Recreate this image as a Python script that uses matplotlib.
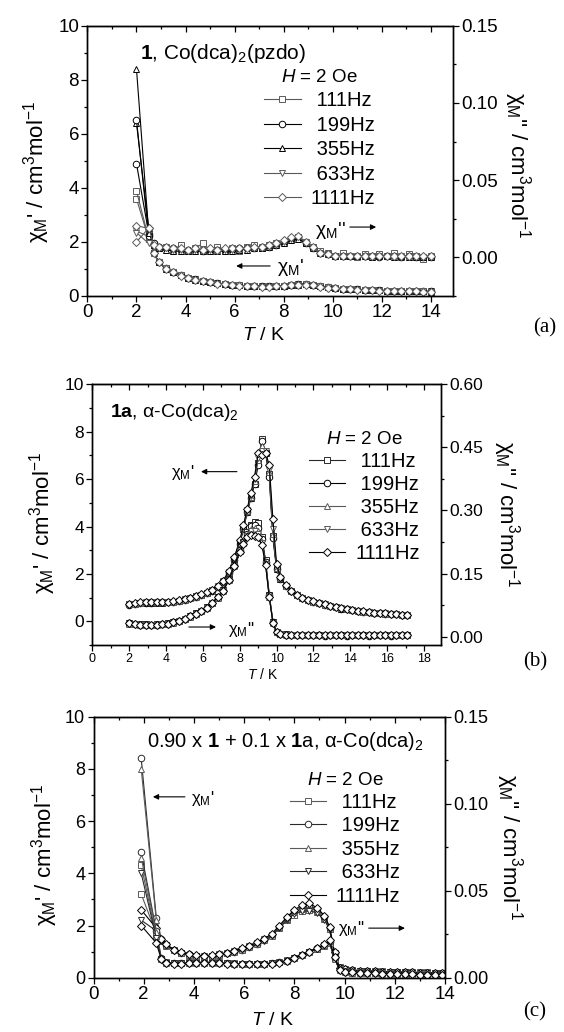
import matplotlib
matplotlib.use('Agg')
import matplotlib.pyplot as plt
from matplotlib.ticker import MultipleLocator, FormatStrFormatter

plt.rcParams['font.family'] = ['Liberation Sans', 'DejaVu Sans']
plt.rcParams['mathtext.fontset'] = 'custom'
plt.rcParams['mathtext.rm'] = 'Liberation Sans'
plt.rcParams['mathtext.it'] = 'Liberation Sans:italic'
plt.rcParams['mathtext.bf'] = 'Liberation Sans:bold'

FREQ_LABELS = [' 111Hz', ' 199Hz', ' 355Hz', ' 633Hz', '1111Hz']
MARKERS = ['s', 'o', '^', 'v', 'D']
MSIZE = [4.3, 4.7, 5.0, 5.0, 4.3]

# ---------------- panel (a): 1, Co(dca)2(pzdo) ----------------
T_a = [2.0, 2.5, 2.7, 2.9, 3.2, 3.5, 3.8, 4.1, 4.4, 4.7, 5.0, 5.3, 5.6, 5.9, 6.2, 6.5, 6.8, 7.1, 7.4, 7.7,
       8.0, 8.3, 8.6, 8.9, 9.2, 9.5, 9.8, 10.1, 10.4, 10.7, 11.0, 11.3, 11.6, 11.9, 12.2, 12.5, 12.8, 13.1,
       13.4, 13.7, 14.0]

chi1_a_111 = [3.6, 2.1, 1.6, 1.27, 1.03, 0.88, 0.77, 0.68, 0.61, 0.56, 0.51, 0.47, 0.44, 0.41, 0.39, 0.38, 0.37,
              0.36, 0.36, 0.37, 0.38, 0.40, 0.43, 0.44, 0.41, 0.37, 0.32, 0.29, 0.27, 0.25, 0.24, 0.23, 0.22,
              0.21, 0.20, 0.19, 0.19, 0.18, 0.18, 0.17, 0.17]
chi1_a_199 = [4.9, 2.3, 1.62, 1.25, 1.02, 0.88, 0.76, 0.68, 0.61, 0.55, 0.51, 0.47, 0.44, 0.41, 0.39, 0.38, 0.37,
              0.36, 0.36, 0.37, 0.38, 0.40, 0.43, 0.44, 0.41, 0.36, 0.32, 0.29, 0.27, 0.25, 0.24, 0.23, 0.22,
              0.21, 0.20, 0.19, 0.19, 0.18, 0.18, 0.17, 0.17]
chi1_a_355 = [6.4, 2.5, 1.65, 1.24, 1.01, 0.87, 0.76, 0.67, 0.60, 0.55, 0.50, 0.47, 0.43, 0.41, 0.39, 0.37, 0.36,
              0.36, 0.36, 0.36, 0.37, 0.39, 0.42, 0.43, 0.41, 0.36, 0.32, 0.29, 0.27, 0.25, 0.24, 0.23, 0.22,
              0.21, 0.20, 0.19, 0.19, 0.18, 0.17, 0.17, 0.16]
chi1_a_633 = [2.4, 2.2, 1.58, 1.25, 1.02, 0.87, 0.76, 0.67, 0.60, 0.55, 0.50, 0.46, 0.43, 0.41, 0.39, 0.37, 0.36,
              0.35, 0.35, 0.36, 0.37, 0.39, 0.42, 0.43, 0.40, 0.36, 0.32, 0.29, 0.26, 0.25, 0.23, 0.22, 0.21,
              0.20, 0.20, 0.19, 0.18, 0.18, 0.17, 0.17, 0.16]
chi1_a_1111 = [2.6, 2.5, 1.6, 1.24, 1.01, 0.87, 0.75, 0.67, 0.60, 0.54, 0.50, 0.46, 0.43, 0.40, 0.38, 0.37, 0.36,
               0.35, 0.35, 0.36, 0.37, 0.39, 0.41, 0.42, 0.40, 0.35, 0.31, 0.28, 0.26, 0.24, 0.23, 0.22, 0.21,
               0.20, 0.19, 0.19, 0.18, 0.17, 0.17, 0.16, 0.16]

chi2_a_111 = [0.043, 0.012, 0.008, 0.006, 0.007, 0.005, 0.008, 0.004, 0.006, 0.009, 0.005, 0.007, 0.005, 0.006,
              0.004, 0.007, 0.008, 0.006, 0.008, 0.009, 0.010, 0.012, 0.013, 0.009, 0.007, 0.004, 0.003, 0.001,
              0.003, 0.001, 0.000, 0.002, 0.001, 0.002, 0.001, 0.003, 0.000, 0.002, 0.001, -0.001, 0.001]
chi2_a_199 = [0.089, 0.014, 0.009, 0.007, 0.006, 0.006, 0.005, 0.005, 0.005, 0.004, 0.005, 0.005, 0.005, 0.005,
              0.006, 0.006, 0.006, 0.007, 0.007, 0.008, 0.010, 0.012, 0.013, 0.009, 0.006, 0.003, 0.002, 0.001,
              0.001, 0.001, 0.001, 0.001, 0.001, 0.000, 0.001, 0.001, 0.000, 0.001, 0.000, 0.000, 0.000]
chi2_a_355 = [0.122, 0.016, 0.008, 0.006, 0.005, 0.004, 0.004, 0.004, 0.004, 0.004, 0.004, 0.004, 0.004, 0.004,
              0.005, 0.005, 0.006, 0.006, 0.007, 0.008, 0.009, 0.011, 0.012, 0.009, 0.006, 0.003, 0.002, 0.001,
              0.001, 0.001, 0.001, 0.001, 0.000, 0.001, 0.001, 0.000, 0.001, 0.000, 0.000, 0.000, 0.000]
chi2_a_633 = [0.016, 0.009, 0.007, 0.006, 0.006, 0.005, 0.005, 0.004, 0.005, 0.005, 0.005, 0.004, 0.005, 0.005,
              0.005, 0.006, 0.006, 0.007, 0.007, 0.008, 0.010, 0.012, 0.013, 0.010, 0.006, 0.003, 0.002, 0.001,
              0.001, 0.001, 0.001, 0.000, 0.001, 0.001, 0.000, 0.001, 0.001, 0.000, 0.001, 0.000, 0.000]
chi2_a_1111 = [0.010, 0.019, 0.008, 0.007, 0.007, 0.006, 0.006, 0.005, 0.006, 0.005, 0.006, 0.005, 0.006, 0.006,
               0.006, 0.006, 0.007, 0.007, 0.008, 0.009, 0.011, 0.013, 0.014, 0.010, 0.007, 0.003, 0.002, 0.001,
               0.001, 0.001, 0.001, 0.001, 0.001, 0.001, 0.001, 0.001, 0.001, 0.001, 0.001, 0.001, 0.001]

# ---------------- panel (b): 1a, alpha-Co(dca)2 ----------------
T_b = [2.0, 2.3, 2.6, 2.9, 3.2, 3.5, 3.8, 4.1, 4.4, 4.7, 5.0, 5.3, 5.6, 5.9, 6.2, 6.5, 6.8, 7.1, 7.4, 7.7, 8.0,
       8.2, 8.4, 8.6, 8.8, 9.0, 9.2, 9.4, 9.6, 9.8, 10.0, 10.2,
       10.5, 10.8, 11.1, 11.4, 11.7, 12.0, 12.3, 12.6, 12.9, 13.2, 13.5, 13.8, 14.1, 14.4, 14.7, 15.0, 15.3,
       15.6, 15.9, 16.2, 16.5, 16.8, 17.1]

chi1_b_111 = [0.72, 0.74, 0.78, 0.79, 0.79, 0.79, 0.79, 0.80, 0.82, 0.86, 0.92, 0.98, 1.05, 1.12, 1.20, 1.30,
              1.45, 1.65, 2.05, 2.60, 3.30,
              3.90, 4.60, 5.20, 5.80, 6.70, 7.70, 7.10, 6.20, 3.60, 2.20, 1.80,
              1.50, 1.26, 1.10, 0.98, 0.90, 0.83, 0.76, 0.70, 0.64, 0.59, 0.54, 0.50, 0.47, 0.44, 0.41, 0.38,
              0.36, 0.34, 0.32, 0.31, 0.29, 0.28, 0.27]
chi1_b_199 = [0.70, 0.73, 0.77, 0.79, 0.79, 0.80, 0.80, 0.81, 0.83, 0.86, 0.91, 0.97, 1.04, 1.11, 1.19, 1.29,
              1.44, 1.64, 2.04, 2.58, 3.28,
              3.90, 4.60, 5.20, 5.80, 6.60, 7.60, 7.10, 6.10, 3.50, 2.20, 1.80,
              1.49, 1.26, 1.10, 0.98, 0.90, 0.82, 0.76, 0.70, 0.64, 0.59, 0.54, 0.50, 0.47, 0.44, 0.41, 0.38,
              0.36, 0.34, 0.32, 0.30, 0.29, 0.28, 0.27]
chi1_b_355 = [0.71, 0.74, 0.78, 0.80, 0.80, 0.80, 0.80, 0.80, 0.82, 0.85, 0.91, 0.97, 1.04, 1.11, 1.20, 1.30,
              1.45, 1.66, 2.06, 2.62, 3.32,
              3.95, 4.65, 5.25, 5.90, 6.80, 7.40, 7.20, 6.30, 3.70, 2.25, 1.82,
              1.50, 1.27, 1.11, 0.99, 0.90, 0.83, 0.77, 0.70, 0.65, 0.59, 0.55, 0.51, 0.47, 0.44, 0.41, 0.39,
              0.36, 0.34, 0.32, 0.31, 0.29, 0.28, 0.26]
chi1_b_633 = [0.72, 0.75, 0.79, 0.80, 0.80, 0.80, 0.80, 0.81, 0.83, 0.87, 0.92, 0.98, 1.05, 1.13, 1.21, 1.31,
              1.47, 1.68, 2.08, 2.65, 3.36,
              4.00, 4.70, 5.30, 6.00, 6.90, 7.20, 7.20, 6.40, 3.90, 2.30, 1.84,
              1.51, 1.27, 1.11, 0.99, 0.91, 0.83, 0.77, 0.71, 0.65, 0.60, 0.55, 0.51, 0.47, 0.44, 0.41, 0.39,
              0.37, 0.35, 0.33, 0.31, 0.30, 0.28, 0.27]
chi1_b_1111 = [0.73, 0.76, 0.80, 0.81, 0.81, 0.81, 0.81, 0.82, 0.84, 0.88, 0.93, 1.00, 1.07, 1.15, 1.23, 1.34,
               1.50, 1.72, 2.12, 2.70, 3.42,
               4.05, 4.75, 5.40, 6.10, 7.10, 7.00, 7.10, 6.60, 4.30, 2.40, 1.86,
               1.52, 1.28, 1.12, 1.00, 0.91, 0.84, 0.77, 0.71, 0.65, 0.60, 0.55, 0.51, 0.48, 0.45, 0.42, 0.39,
               0.37, 0.35, 0.33, 0.31, 0.30, 0.28, 0.27]

chi2_b_111 = [0.033, 0.031, 0.029, 0.029, 0.028, 0.029, 0.030, 0.032, 0.035, 0.038, 0.043, 0.049, 0.055, 0.062,
              0.070, 0.081, 0.094, 0.111, 0.136, 0.171, 0.206,
              0.225, 0.248, 0.266, 0.272, 0.270, 0.236, 0.182, 0.100, 0.035, 0.011, 0.007,
              0.005, 0.004, 0.004, 0.004, 0.003, 0.004, 0.003, 0.003, 0.004, 0.003, 0.003, 0.003, 0.004, 0.003,
              0.003, 0.003, 0.003, 0.004, 0.003, 0.003, 0.003, 0.003, 0.004]
chi2_b_199 = [0.032, 0.030, 0.028, 0.028, 0.028, 0.028, 0.030, 0.031, 0.034, 0.037, 0.042, 0.048, 0.053, 0.061,
              0.069, 0.080, 0.093, 0.110, 0.135, 0.170, 0.205,
              0.224, 0.245, 0.262, 0.265, 0.258, 0.232, 0.178, 0.098, 0.034, 0.010, 0.006,
              0.004, 0.003, 0.003, 0.003, 0.003, 0.003, 0.003, 0.002, 0.003, 0.003, 0.003, 0.002, 0.003, 0.003,
              0.003, 0.002, 0.003, 0.003, 0.003, 0.002, 0.003, 0.003, 0.003]
chi2_b_355 = [0.031, 0.029, 0.028, 0.027, 0.027, 0.028, 0.029, 0.031, 0.033, 0.037, 0.041, 0.047, 0.053, 0.060,
              0.068, 0.079, 0.092, 0.109, 0.134, 0.168, 0.203,
              0.222, 0.242, 0.256, 0.258, 0.250, 0.226, 0.175, 0.095, 0.033, 0.010, 0.006,
              0.004, 0.004, 0.003, 0.003, 0.003, 0.003, 0.003, 0.003, 0.003, 0.003, 0.003, 0.003, 0.003, 0.003,
              0.003, 0.003, 0.003, 0.003, 0.003, 0.003, 0.003, 0.003, 0.003]
chi2_b_633 = [0.031, 0.029, 0.027, 0.027, 0.027, 0.027, 0.029, 0.030, 0.033, 0.036, 0.041, 0.047, 0.052, 0.060,
              0.068, 0.079, 0.092, 0.108, 0.133, 0.167, 0.201,
              0.220, 0.240, 0.250, 0.250, 0.244, 0.222, 0.172, 0.095, 0.033, 0.010, 0.006,
              0.004, 0.003, 0.003, 0.003, 0.003, 0.003, 0.002, 0.003, 0.003, 0.003, 0.002, 0.003, 0.003, 0.003,
              0.002, 0.003, 0.003, 0.003, 0.002, 0.003, 0.003, 0.003, 0.002]
chi2_b_1111 = [0.032, 0.030, 0.028, 0.028, 0.028, 0.028, 0.030, 0.031, 0.034, 0.037, 0.042, 0.048, 0.054, 0.061,
               0.069, 0.080, 0.093, 0.109, 0.134, 0.168, 0.202,
               0.220, 0.238, 0.242, 0.240, 0.236, 0.218, 0.170, 0.094, 0.033, 0.010, 0.006,
               0.004, 0.004, 0.003, 0.003, 0.003, 0.003, 0.003, 0.003, 0.003, 0.003, 0.003, 0.003, 0.003, 0.003,
               0.003, 0.003, 0.003, 0.003, 0.003, 0.003, 0.003, 0.003, 0.003]

# ---------------- panel (c): 0.90 x 1 + 0.1 x 1a ----------------
T_c = [1.9, 2.5, 2.7, 2.9, 3.2, 3.5, 3.8, 4.1, 4.4, 4.7, 5.0, 5.3, 5.6, 5.9, 6.2, 6.5, 6.8, 7.1, 7.4, 7.7, 8.0,
       8.3, 8.6, 8.9, 9.2, 9.4, 9.6, 9.8, 10.0, 10.3, 10.6, 10.9, 11.2, 11.5, 11.8, 12.1, 12.4, 12.7, 13.0,
       13.3, 13.6, 13.9]

chi1_c_111 = [3.2, 1.7, 1.40, 1.22, 1.05, 0.95, 0.88, 0.85, 0.83, 0.85, 0.89, 0.95, 1.02, 1.10, 1.20, 1.32, 1.47,
              1.63, 1.92, 2.20, 2.42, 2.55, 2.60, 2.50, 2.25, 1.85, 0.95, 0.40, 0.33, 0.29, 0.27, 0.26, 0.25,
              0.24, 0.23, 0.22, 0.21, 0.21, 0.20, 0.20, 0.19, 0.19]
chi1_c_199 = [8.4, 2.3, 1.48, 1.26, 1.06, 0.96, 0.89, 0.84, 0.82, 0.84, 0.88, 0.94, 1.00, 1.08, 1.18, 1.30, 1.45,
              1.62, 1.95, 2.28, 2.55, 2.70, 2.78, 2.62, 2.32, 1.92, 0.95, 0.38, 0.32, 0.28, 0.26, 0.25, 0.24,
              0.23, 0.22, 0.21, 0.20, 0.20, 0.19, 0.19, 0.18, 0.18]
chi1_c_355 = [8.0, 2.2, 1.45, 1.25, 1.05, 0.95, 0.88, 0.84, 0.82, 0.83, 0.87, 0.93, 0.99, 1.07, 1.17, 1.29, 1.44,
              1.61, 1.93, 2.24, 2.50, 2.63, 2.68, 2.56, 2.28, 1.88, 0.93, 0.37, 0.31, 0.28, 0.26, 0.25, 0.24,
              0.23, 0.22, 0.21, 0.20, 0.19, 0.19, 0.18, 0.18, 0.17]
chi1_c_633 = [2.2, 1.8, 1.42, 1.24, 1.04, 0.94, 0.87, 0.83, 0.81, 0.83, 0.86, 0.92, 0.98, 1.06, 1.16, 1.28, 1.42,
              1.60, 1.90, 2.20, 2.45, 2.55, 2.56, 2.48, 2.22, 1.84, 0.92, 0.37, 0.31, 0.27, 0.25, 0.24, 0.23,
              0.22, 0.21, 0.20, 0.20, 0.19, 0.18, 0.18, 0.17, 0.17]
chi1_c_1111 = [2.6, 1.9, 1.50, 1.28, 1.08, 0.97, 0.90, 0.86, 0.84, 0.86, 0.90, 0.96, 1.03, 1.12, 1.22, 1.35, 1.50,
               1.68, 2.00, 2.32, 2.60, 2.78, 2.85, 2.68, 2.38, 1.96, 0.98, 0.39, 0.32, 0.28, 0.26, 0.25, 0.24,
               0.23, 0.22, 0.21, 0.20, 0.20, 0.19, 0.18, 0.18, 0.17]

chi2_c_111 = [0.0645, 0.024, 0.0110, 0.0088, 0.0085, 0.0086, 0.0088, 0.0090, 0.0092, 0.0090, 0.0088, 0.0085,
              0.0082, 0.0080, 0.0080, 0.0079, 0.0081, 0.0084, 0.0090, 0.0099, 0.0113, 0.0130, 0.0148, 0.0165,
              0.0185, 0.0198, 0.0115, 0.0048, 0.0036, 0.0033, 0.0031, 0.0029, 0.0028, 0.0026, 0.0025, 0.0024,
              0.0022, 0.0021, 0.0020, 0.0019, 0.0018, 0.0018]
chi2_c_199 = [0.0720, 0.027, 0.0115, 0.0087, 0.0083, 0.0083, 0.0084, 0.0086, 0.0087, 0.0087, 0.0086, 0.0083,
              0.0080, 0.0078, 0.0078, 0.0078, 0.0080, 0.0083, 0.0089, 0.0098, 0.0113, 0.0132, 0.0150, 0.0168,
              0.0188, 0.0203, 0.0113, 0.0045, 0.0033, 0.0030, 0.0029, 0.0027, 0.0026, 0.0024, 0.0023, 0.0021,
              0.0020, 0.0018, 0.0018, 0.0017, 0.0015, 0.0015]
chi2_c_355 = [0.0690, 0.026, 0.0112, 0.0086, 0.0082, 0.0082, 0.0083, 0.0085, 0.0086, 0.0086, 0.0085, 0.0082,
              0.0079, 0.0077, 0.0077, 0.0077, 0.0079, 0.0082, 0.0088, 0.0097, 0.0112, 0.0131, 0.0149, 0.0167,
              0.0187, 0.0200, 0.0110, 0.0044, 0.0032, 0.0029, 0.0028, 0.0026, 0.0025, 0.0023, 0.0022, 0.0020,
              0.0019, 0.0018, 0.0017, 0.0016, 0.0015, 0.0014]
chi2_c_633 = [0.0600, 0.023, 0.0108, 0.0085, 0.0082, 0.0082, 0.0083, 0.0084, 0.0085, 0.0085, 0.0084, 0.0082,
              0.0079, 0.0077, 0.0076, 0.0077, 0.0079, 0.0082, 0.0087, 0.0096, 0.0111, 0.0130, 0.0148, 0.0166,
              0.0186, 0.0201, 0.0112, 0.0044, 0.0032, 0.0029, 0.0027, 0.0026, 0.0025, 0.0023, 0.0022, 0.0021,
              0.0019, 0.0018, 0.0017, 0.0016, 0.0015, 0.0015]
chi2_c_1111 = [0.0300, 0.020, 0.0105, 0.0084, 0.0081, 0.0081, 0.0082, 0.0083, 0.0084, 0.0084, 0.0083, 0.0081,
               0.0078, 0.0076, 0.0076, 0.0076, 0.0078, 0.0081, 0.0087, 0.0096, 0.0111, 0.0131, 0.0150, 0.0170,
               0.0192, 0.0215, 0.0120, 0.0046, 0.0033, 0.0030, 0.0028, 0.0027, 0.0025, 0.0024, 0.0022, 0.0021,
               0.0020, 0.0019, 0.0018, 0.0017, 0.0016, 0.0015]

GREY = '#5a5a5a'
DARK = '#2a2a2a'
BLACK = 'black'

CHI1_LABEL = "χ$_{\\rm M}$' / cm$^3$mol$^{-1}$"
CHI2_LABEL = "χ$_{\\rm M}$'' / cm$^3$mol$^{-1}$"


def plot_series(ax, ax2, T, chi1_list, chi2_list, colors):
    for k in range(5):
        style = dict(marker=MARKERS[k], ms=MSIZE[k], mfc='white', mec=colors[k], mew=0.7,
                     color=colors[k], lw=0.8)
        ax.plot(T, chi1_list[k], **style)
        ax2.plot(T, chi2_list[k], label=FREQ_LABELS[k], **style)


def style_axes(ax, ax2, xlim, ylim, y2lim, y2major, y2minor, xsize, ysize):
    ax.set_xlim(xlim)
    ax.set_ylim(ylim)
    ax2.set_ylim(y2lim)
    ax.xaxis.set_major_locator(MultipleLocator(2))
    ax.xaxis.set_minor_locator(MultipleLocator(1))
    ax.yaxis.set_major_locator(MultipleLocator(2))
    ax.yaxis.set_minor_locator(MultipleLocator(1))
    ax2.yaxis.set_major_locator(MultipleLocator(y2major))
    ax2.yaxis.set_minor_locator(MultipleLocator(y2minor))
    ax2.yaxis.set_major_formatter(FormatStrFormatter('%.2f'))
    for a in (ax, ax2):
        a.tick_params(which='major', direction='out', length=4, width=0.9)
        a.tick_params(which='minor', direction='out', length=2.5, width=0.9)
        for s in a.spines.values():
            s.set_linewidth(1.0)
    ax.tick_params(axis='x', labelsize=xsize, pad=2)
    ax.tick_params(axis='y', labelsize=ysize, pad=2)
    ax2.tick_params(axis='y', labelsize=ysize, pad=2)
    top = ax.secondary_xaxis('top')
    top.xaxis.set_major_locator(MultipleLocator(2))
    top.xaxis.set_minor_locator(MultipleLocator(1))
    top.tick_params(which='major', direction='in', length=4, width=0.9, labeltop=False)
    top.tick_params(which='minor', direction='in', length=2.5, width=0.9, labeltop=False)


def add_legend(ax2, anchor, spacing):
    ax2.legend(loc='upper left', bbox_to_anchor=anchor, frameon=False, fontsize=14.5,
               title='$H$ = 2 Oe', title_fontsize=13.5, handlelength=1.8, handletextpad=0.5,
               labelspacing=spacing, borderpad=0, borderaxespad=0, numpoints=1)


def arrow(ax, tail, tip):
    ax.annotate('', xy=tip, xytext=tail, xycoords='axes fraction', textcoords='axes fraction',
                arrowprops=dict(arrowstyle='-|>', lw=0.8, color='black', mutation_scale=8,
                                shrinkA=0, shrinkB=0))


fig = plt.figure(figsize=(5.64, 10.32), dpi=100)

# ---- (a)
ax = fig.add_axes([0.155, 0.7132, 0.648, 0.2619])
ax2 = ax.twinx()
plot_series(ax, ax2, T_a, [chi1_a_111, chi1_a_199, chi1_a_355, chi1_a_633, chi1_a_1111],
            [chi2_a_111, chi2_a_199, chi2_a_355, chi2_a_633, chi2_a_1111], [GREY, BLACK, BLACK, GREY, GREY])
style_axes(ax, ax2, (0, 14.9), (0, 10), (-0.025, 0.15), 0.05, 0.025, 13.5, 13.5)
ax.set_xlabel('$T$ / K', fontsize=14)
ax.xaxis.set_label_coords(0.483, -0.115)
ax.set_ylabel(CHI1_LABEL, fontsize=16, va='center')
ax.yaxis.set_label_coords(-0.14, 0.46)
ax2.set_ylabel(CHI2_LABEL, fontsize=16, rotation=270, va='center')
ax2.yaxis.set_label_coords(1.178, 0.485)
ax.text(0.144, 0.878, "$\\mathbf{1}$, Co(dca)$_2$(pzdo)", fontsize=15, transform=ax.transAxes, va='baseline')
add_legend(ax2, (0.484, 0.84), 0.27)
ax.text(0.623, 0.244, "χ$_{\\rm M}$''", fontsize=14, transform=ax.transAxes, va='center')
arrow(ax, (0.718, 0.255), (0.79, 0.255))
arrow(ax, (0.50, 0.111), (0.407, 0.111))
ax.text(0.519, 0.104, "χ$_{\\rm M}$'", fontsize=14, transform=ax.transAxes, va='center')

# ---- (b)
ax = fig.add_axes([0.1638, 0.375, 0.6174, 0.2526])
ax2 = ax.twinx()
plot_series(ax, ax2, T_b, [chi1_b_111, chi1_b_199, chi1_b_355, chi1_b_633, chi1_b_1111],
            [chi2_b_111, chi2_b_199, chi2_b_355, chi2_b_633, chi2_b_1111], [DARK, BLACK, GREY, GREY, BLACK])
style_axes(ax, ax2, (0, 18.9), (-1, 10), (-0.02, 0.6), 0.15, 0.075, 9, 12.5)
ax.set_xlabel('$T$ / K', fontsize=10)
ax.xaxis.set_label_coords(0.49, -0.084)
ax.set_ylabel(CHI1_LABEL, fontsize=16, va='center')
ax.yaxis.set_label_coords(-0.142, 0.47)
ax2.set_ylabel(CHI2_LABEL, fontsize=16, rotation=270, va='center')
ax2.yaxis.set_label_coords(1.19, 0.5)
ax.text(0.05, 0.875, "$\\mathbf{1a}$, α-Co(dca)$_2$", fontsize=14, transform=ax.transAxes, va='baseline')
add_legend(ax2, (0.622, 0.82), 0.2)
ax.text(0.226, 0.66, "χ$_{\\rm M}$'", fontsize=12, transform=ax.transAxes, va='center')
arrow(ax, (0.415, 0.665), (0.312, 0.665))
arrow(ax, (0.277, 0.069), (0.355, 0.069))
ax.text(0.39, 0.058, "χ$_{\\rm M}$''", fontsize=12, transform=ax.transAxes, va='center')

# ---- (c)
ax = fig.add_axes([0.1658, 0.0526, 0.6232, 0.2529])
ax2 = ax.twinx()
plot_series(ax, ax2, T_c, [chi1_c_111, chi1_c_199, chi1_c_355, chi1_c_633, chi1_c_1111],
            [chi2_c_111, chi2_c_199, chi2_c_355, chi2_c_633, chi2_c_1111], [GREY, DARK, GREY, DARK, BLACK])
style_axes(ax, ax2, (0, 14), (0, 10), (0, 0.15), 0.05, 0.025, 13.5, 13)
ax.set_xlabel('$T$ / K', fontsize=14)
ax.xaxis.set_label_coords(0.51, -0.13)
ax.set_ylabel(CHI1_LABEL, fontsize=16, va='center')
ax.yaxis.set_label_coords(-0.138, 0.47)
ax2.set_ylabel(CHI2_LABEL, fontsize=16, rotation=270, va='center')
ax2.yaxis.set_label_coords(1.182, 0.5)
ax.text(0.152, 0.885, "0.90 x $\\mathbf{1}$ + 0.1 x $\\mathbf{1}$a, α-Co(dca)$_2$", fontsize=14.5,
        transform=ax.transAxes, va='baseline')
add_legend(ax2, (0.558, 0.79), 0.22)
arrow(ax, (0.26, 0.693), (0.169, 0.693))
ax.text(0.277, 0.685, "χ$_{\\rm M}$'", fontsize=12, transform=ax.transAxes, va='center')
ax.text(0.696, 0.19, "χ$_{\\rm M}$''", fontsize=12, transform=ax.transAxes, va='center')
arrow(ax, (0.783, 0.19), (0.886, 0.19))

# panel letters
for lab, px, py in [('(a)', 545, 328), ('(b)', 535, 662), ('(c)', 535, 1012)]:
    fig.text(px / 564, 1 - py / 1032, lab, family='Liberation Serif', fontsize=15, ha='center', va='center')

fig.savefig('out.png', dpi=100)
